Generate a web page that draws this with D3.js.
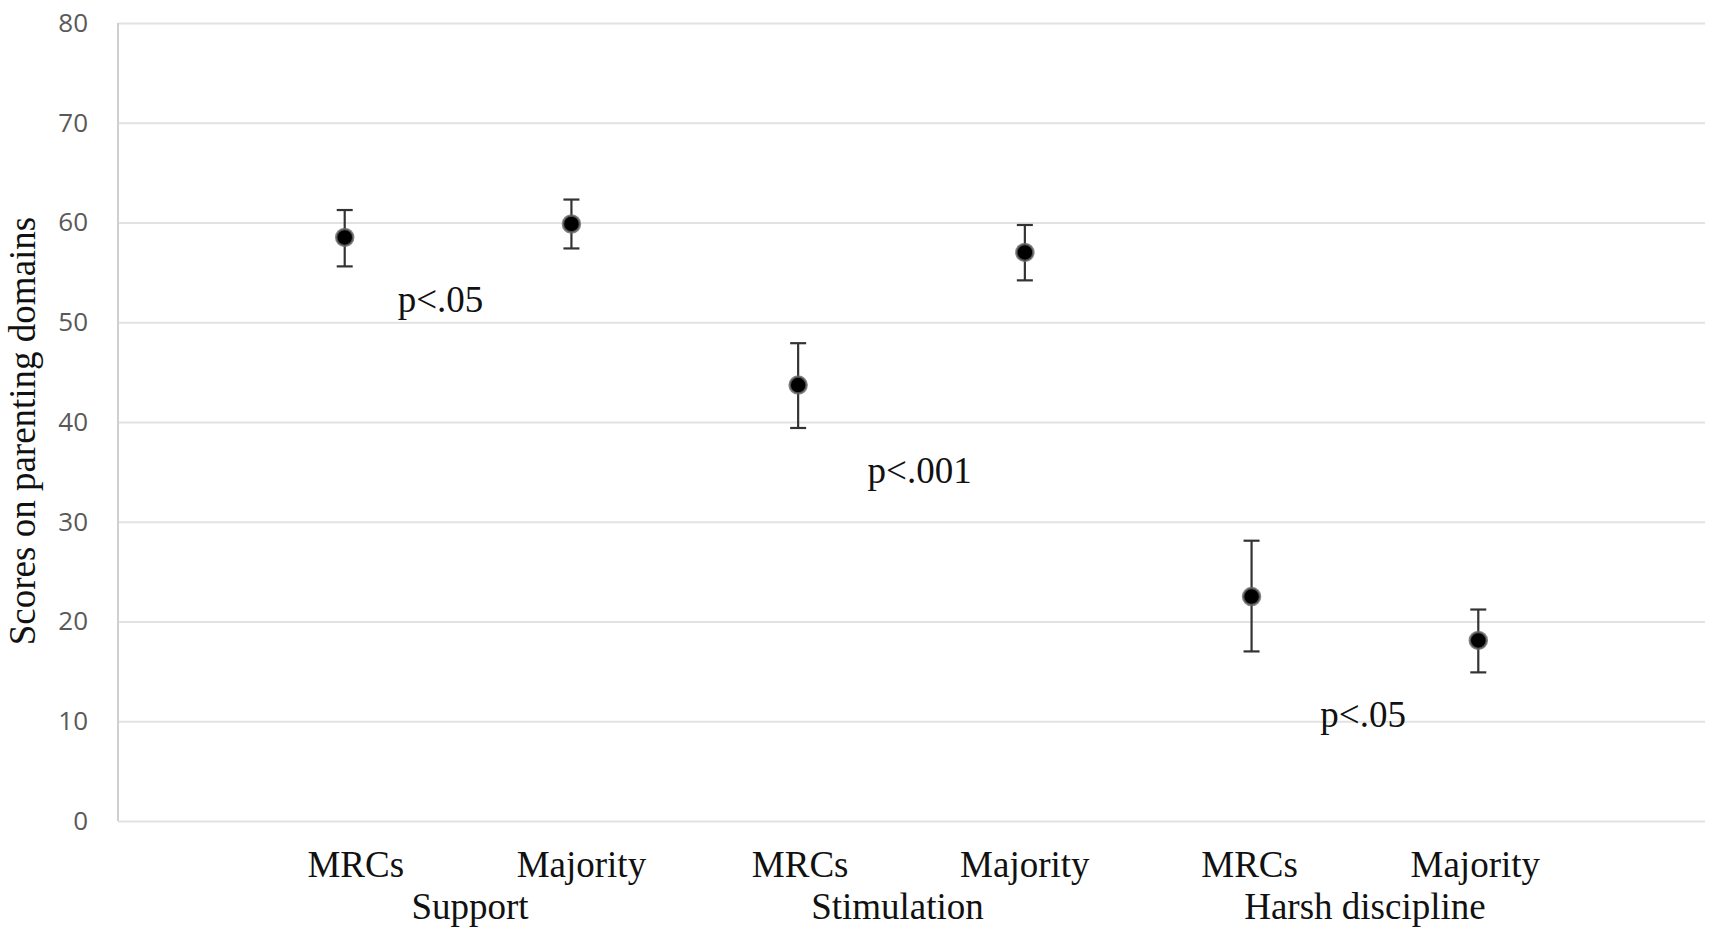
<!DOCTYPE html>
<html>
<head>
<meta charset="utf-8">
<script src="https://cdn.jsdelivr.net/npm/d3@7"></script>
<style>
  html, body { margin: 0; padding: 0; background: #fff; }
  svg { display: block; }
</style>
</head>
<body>
<svg id="chart" width="1712" height="936"></svg>
<script>
// ---- data ----
const groups = ["Support", "Stimulation", "Harsh discipline"];
const categories = ["MRCs", "Majority", "MRCs", "Majority", "MRCs", "Majority"];
const means = [58.5, 59.85, 43.7, 57.0, 22.5, 18.1];
const upper = [61.25, 62.3, 47.9, 59.75, 28.1, 21.2];
const lower = [55.6, 57.4, 39.4, 54.2, 17.0, 14.9];
const pLabels = ["p<.05", "p<.001", "p<.05"];
const yTicks = [0, 10, 20, 30, 40, 50, 60, 70, 80];
const yTitle = "Scores on parenting domains";

// ---- layout ----
const svg = d3.select("#chart");
const x = d3.scaleLinear().domain([0, 7]).range([118, 1705]);
const y = d3.scaleLinear().domain([0, 80]).range([821, 23]);
const serif = "'Liberation Serif', 'Times New Roman', serif";

// gridlines
const yAxis = d3.axisLeft(y).tickValues(yTicks).tickSize(-(x.range()[1] - x.range()[0])).tickPadding(30).tickFormat(d3.format("d"));
const gAxis = svg.append("g").attr("transform", `translate(${x.range()[0]},0)`).call(yAxis);
gAxis.select(".domain").remove();
gAxis.selectAll(".tick line").attr("stroke", "#e2e2e2").attr("stroke-width", 2);
gAxis.selectAll(".tick text")
  .attr("fill", "#595959")
  .attr("font-family", "'Open Sans', 'Liberation Sans', sans-serif")
  .attr("font-size", 26)
  .attr("x", -30);

// left axis line
svg.append("line")
  .attr("x1", x(0)).attr("x2", x(0))
  .attr("y1", y(80)).attr("y2", y(0))
  .attr("stroke", "#cfcfcf").attr("stroke-width", 2);

// y title
svg.append("text")
  .attr("transform", `translate(35,${(y(80) + y(0)) / 2 + 9}) rotate(-90)`)
  .attr("text-anchor", "middle")
  .attr("font-family", serif)
  .attr("font-size", 37)
  .attr("fill", "#111")
  .text(yTitle);

// points data
const pts = categories.map((c, i) => ({ c, i, m: means[i], hi: upper[i], lo: lower[i] }));
const cap = 8;

const eb = svg.append("g").attr("stroke", "#333").attr("stroke-width", 2.2).attr("fill", "none");
eb.selectAll("line.v").data(pts).join("line").attr("class", "v")
  .attr("x1", d => x(d.i + 1)).attr("x2", d => x(d.i + 1))
  .attr("y1", d => y(d.hi)).attr("y2", d => y(d.lo));
eb.selectAll("line.t").data(pts).join("line").attr("class", "t")
  .attr("x1", d => x(d.i + 1) - cap).attr("x2", d => x(d.i + 1) + cap)
  .attr("y1", d => y(d.hi)).attr("y2", d => y(d.hi));
eb.selectAll("line.b").data(pts).join("line").attr("class", "b")
  .attr("x1", d => x(d.i + 1) - cap).attr("x2", d => x(d.i + 1) + cap)
  .attr("y1", d => y(d.lo)).attr("y2", d => y(d.lo));

svg.append("g").selectAll("circle").data(pts).join("circle")
  .attr("cx", d => x(d.i + 1)).attr("cy", d => y(d.m))
  .attr("r", 8.5)
  .attr("fill", "#000")
  .attr("stroke", "#666").attr("stroke-width", 2.5).attr("stroke-opacity", 0.8);

// category labels
const catNudge = [11, 10, 2, 0, -2, -3];
svg.append("g").selectAll("text").data(pts).join("text")
  .attr("x", d => x(d.i + 1) + catNudge[d.i])
  .attr("y", 877)
  .attr("text-anchor", "middle")
  .attr("font-family", serif).attr("font-size", 37).attr("fill", "#111")
  .text(d => d.c);

// group labels
const groupNudge = [12, -14, 0];
svg.append("g").selectAll("text").data(groups).join("text")
  .attr("x", (d, i) => x(2 * i + 1.5) + groupNudge[i])
  .attr("y", 919)
  .attr("text-anchor", "middle")
  .attr("font-family", serif).attr("font-size", 37).attr("fill", "#111")
  .text(d => d);

// significance annotations (position in chart units)
const pPos = [[1.234, 51.0], [3.306, 33.9], [5.303, 9.4]];
svg.append("g").selectAll("text").data(pLabels).join("text")
  .attr("x", (d, i) => x(pPos[i][0]))
  .attr("y", (d, i) => y(pPos[i][1]))
  .attr("font-family", serif).attr("font-size", 37).attr("fill", "#111")
  .text(d => d);
</script>
</body>
</html>
